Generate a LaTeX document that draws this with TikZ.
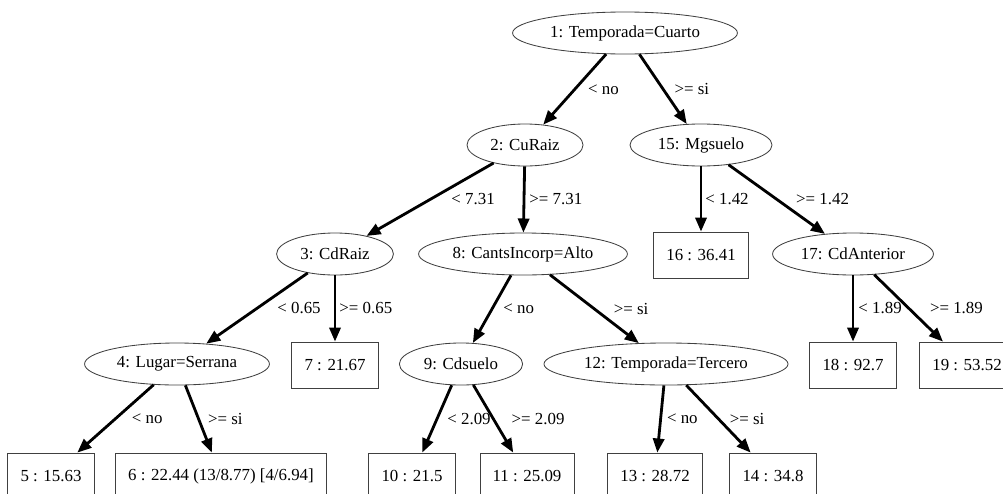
\documentclass[tikz,border=0pt]{standalone}
\usepackage{fontspec}
\setmainfont{Liberation Serif}
\usetikzlibrary{arrows.meta,shapes.geometric}

\begin{document}
\begin{tikzpicture}[
    x=0.025cm, y=-0.025cm,
    every node/.style={font=\fontsize{12}{14}\selectfont},
    split/.style={ellipse, draw=black!75, line width=0.6pt, inner sep=0pt,
      minimum height=1.05cm, minimum width=#1},
    leaf/.style={rectangle, draw=black!75, line width=0.6pt, inner xsep=9pt,
      minimum height=1.15cm},
    edge/.style={line width=2pt, -{Triangle[length=10pt,width=8pt]}},
    lbl/.style={midway, anchor=west, inner sep=0pt, xshift=#1*0.025cm}
  ]
  \useasboundingbox (0,0) rectangle (1003,493);

  % inner nodes
  \node[split=5.62cm] (n1)  at (625,33)  {1: Temporada=Cuarto};
  \node[split=2.9cm]  (n2)  at (525,145) {2: CuRaiz};
  \node[split=3.55cm] (n15) at (701,145) {15: Mgsuelo};
  \node[split=2.92cm] (n3)  at (335,254) {3: CdRaiz};
  \node[split=5.22cm] (n8)  at (523,254) {8: CantsIncorp=Alto};
  \node[split=4.02cm] (n17) at (853,254) {17: CdAnterior};
  \node[split=4.62cm] (n4)  at (177,364) {4: Lugar=Serrana};
  \node[split=3.08cm] (n9)  at (461,364) {9: Cdsuelo};
  \node[split=6.1cm]  (n12) at (666,364) {12: Temporada=Tercero};

  % leaves
  \node[leaf] (n16) at (701,255) {16 : 36.41};
  \node[leaf] (n7)  at (335,365) {7 : 21.67};
  \node[leaf] (n18) at (853,365) {18 : 92.7};
  \node[leaf] (n19) at (967,365) {19 : 53.52};
  \node[leaf] (n5)  at (51,476)  {5 : 15.63};
  \node[leaf] (n6)  at (221,476) {6 : 22.44 (13/8.77) [4/6.94]};
  \node[leaf] (n10) at (412,476) {10 : 21.5};
  \node[leaf] (n11) at (527,476) {11 : 25.09};
  \node[leaf] (n13) at (655,476) {13 : 28.72};
  \node[leaf] (n14) at (773,476) {14 : 34.8};

  % splits
  \draw[edge] (n1) -- node[lbl=12] {< no} (n2);
  \draw[edge] (n1) -- node[lbl=10] {>= si} (n15);
  \draw[edge] (n2) -- node[lbl=20] {< 7.31} (n3);
  \draw[edge] (n2) -- node[lbl=4] {>= 7.31} (n8);
  \draw[edge] (n15) -- node[lbl=3] {< 1.42} (n16);
  \draw[edge] (n15) -- node[lbl=18] {>= 1.42} (n17);
  \draw[edge] (n3) -- node[lbl=19] {< 0.65} (n4);
  \draw[edge] (n3) -- node[lbl=3] {>= 0.65} (n7);
  \draw[edge] (n8) -- node[lbl=10] {< no} (n9);
  \draw[edge] (n8) -- node[lbl=18] {>= si} (n12);
  \draw[edge] (n17) -- node[lbl=4] {< 1.89} (n18);
  \draw[edge] (n17) -- node[lbl=20] {>= 1.89} (n19);
  \draw[edge] (n4) -- node[lbl=15] {< no} (n5);
  \draw[edge] (n4) -- node[lbl=8] {>= si} (n6);
  \draw[edge] (n9) -- node[lbl=9] {< 2.09} (n10);
  \draw[edge] (n9) -- node[lbl=17] {>= 2.09} (n11);
  \draw[edge] (n12) -- node[lbl=5] {< no} (n13);
  \draw[edge] (n12) -- node[lbl=10] {>= si} (n14);
\end{tikzpicture}
\end{document}
